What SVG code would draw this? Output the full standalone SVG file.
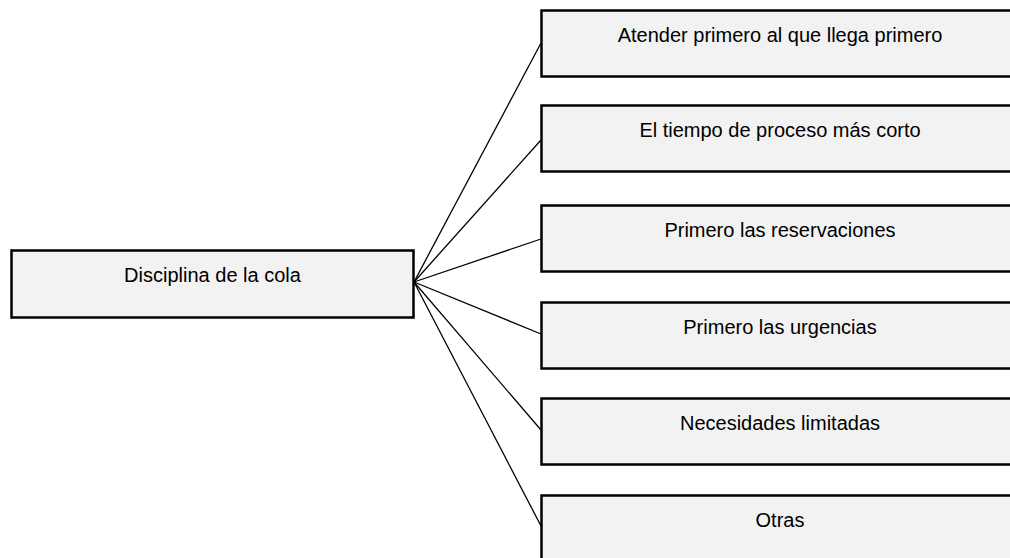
<svg xmlns="http://www.w3.org/2000/svg" width="1010" height="558" viewBox="0 0 1010 558">
<style>
.box{fill:#f2f2f2;stroke:#000;stroke-width:2.5}
.lbl{font-family:"Liberation Sans",Arial,sans-serif;font-size:20px;fill:#000;text-anchor:middle}
.conn line{stroke:#000;stroke-width:1.3}
</style>
<rect width="1010" height="558" fill="#fff"/>
<g class="conn" id="connectors">
<line x1="414" y1="282" x2="541" y2="43"/>
<line x1="414" y1="282" x2="541" y2="140"/>
<line x1="414" y1="282" x2="541" y2="239"/>
<line x1="414" y1="282" x2="541" y2="334"/>
<line x1="414" y1="282" x2="541" y2="430"/>
<line x1="414" y1="282" x2="541" y2="526"/>
</g>
<g id="root"><rect class="box" x="11.5" y="250.5" width="402" height="67"/><text class="lbl" x="212.5" y="282">Disciplina de la cola</text></g>
<g id="n1"><rect class="box" x="541.5" y="10.5" width="480" height="66"/><text class="lbl" x="780" y="42">Atender primero al que llega primero</text></g>
<g id="n2"><rect class="box" x="541.5" y="105.5" width="480" height="66"/><text class="lbl" x="780" y="137">El tiempo de proceso más corto</text></g>
<g id="n3"><rect class="box" x="541.5" y="205.5" width="480" height="66"/><text class="lbl" x="780" y="237">Primero las reservaciones</text></g>
<g id="n4"><rect class="box" x="541.5" y="302.5" width="480" height="66"/><text class="lbl" x="780" y="334">Primero las urgencias</text></g>
<g id="n5"><rect class="box" x="541.5" y="398.5" width="480" height="66"/><text class="lbl" x="780" y="430">Necesidades limitadas</text></g>
<g id="n6"><rect class="box" x="541.5" y="495.5" width="480" height="80"/><text class="lbl" x="780" y="527">Otras</text></g>
</svg>
